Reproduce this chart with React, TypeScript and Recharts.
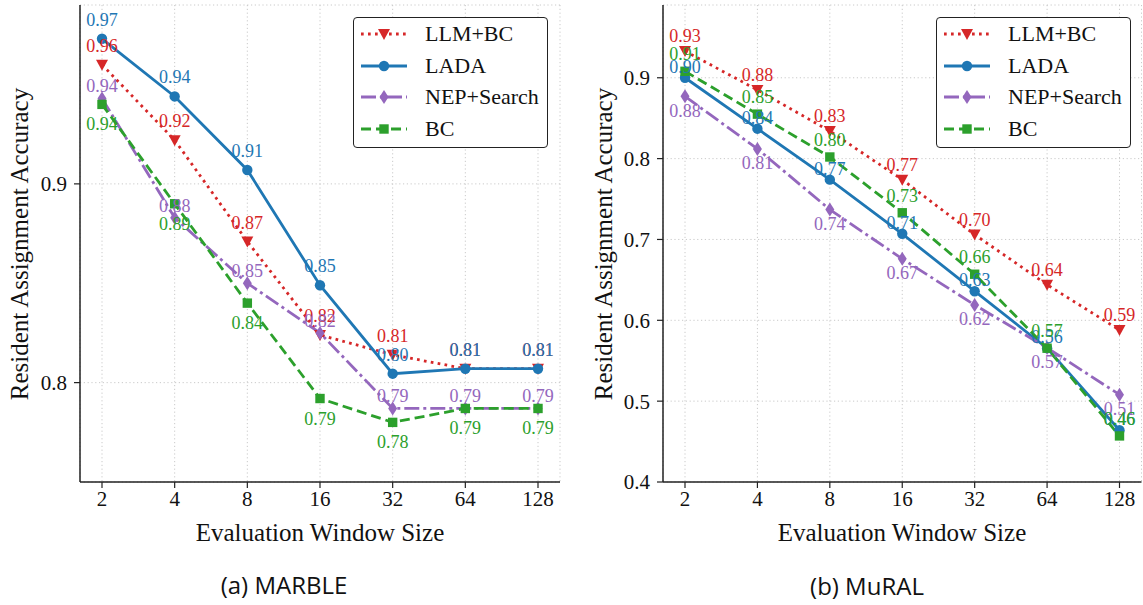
import { LineChart, Line, XAxis, YAxis, CartesianGrid, LabelList } from 'recharts'

const windows = ['2', '4', '8', '16', '32', '64', '128']

// (a) MARBLE
const marbleLlmBc = [0.96, 0.922, 0.871, 0.824, 0.814, 0.807, 0.807]
const marbleLada = [0.973, 0.944, 0.907, 0.849, 0.8045, 0.807, 0.807]
const marbleNep = [0.943, 0.883, 0.85, 0.825, 0.787, 0.787, 0.787]
const marbleBc = [0.94, 0.89, 0.84, 0.792, 0.78, 0.787, 0.787]

const marbleLlmBcLabels = ['0.96', '0.92', '0.87', '0.82', '0.81', '0.81', '0.81']
const marbleLadaLabels = ['0.97', '0.94', '0.91', '0.85', '0.80', '0.81', '0.81']
const marbleNepLabels = ['0.94', '0.88', '0.85', '0.82', '0.79', '0.79', '0.79']
const marbleBcLabels = ['0.94', '0.89', '0.84', '0.79', '0.78', '0.79', '0.79']

// (b) MuRAL
const muralLlmBc = [0.933, 0.885, 0.834, 0.774, 0.706, 0.644, 0.588]
const muralLada = [0.9, 0.837, 0.774, 0.707, 0.636, 0.5655, 0.464]
const muralNep = [0.877, 0.812, 0.737, 0.676, 0.619, 0.566, 0.508]
const muralBc = [0.908, 0.855, 0.802, 0.733, 0.657, 0.5655, 0.457]

const muralLlmBcLabels = ['0.93', '0.88', '0.83', '0.77', '0.70', '0.64', '0.59']
const muralLadaLabels = ['0.90', '0.84', '0.77', '0.71', '0.63', '0.56', '0.46']
const muralNepLabels = ['0.88', '0.81', '0.74', '0.67', '0.62', '0.57', '0.51']
const muralBcLabels = ['0.91', '0.85', '0.80', '0.73', '0.66', '0.57', '0.46']

const marbleTicks = [0.8, 0.9]
const muralTicks = [0.4, 0.5, 0.6, 0.7, 0.8, 0.9]

const SERIF = "'Liberation Serif', 'Times New Roman', serif"

type Kind = 'tri' | 'circle' | 'diamond' | 'square'

const series = [
  { key: 'llm', name: 'LLM+BC', color: '#d62728', dash: '2.7 4.3', kind: 'tri' as Kind },
  { key: 'lada', name: 'LADA', color: '#1f77b4', dash: undefined, kind: 'circle' as Kind },
  { key: 'nep', name: 'NEP+Search', color: '#9467bd', dash: '15 4 3 4', kind: 'diamond' as Kind },
  { key: 'bc', name: 'BC', color: '#2ca02c', dash: '10 5', kind: 'square' as Kind },
]

function buildRows(llm: number[], lada: number[], nep: number[], bc: number[], labels: string[][]) {
  return windows.map((w, i) => ({
    w,
    llm: llm[i],
    lada: lada[i],
    nep: nep[i],
    bc: bc[i],
    llmLabel: labels[0][i],
    ladaLabel: labels[1][i],
    nepLabel: labels[2][i],
    bcLabel: labels[3][i],
  }))
}

const marbleRows = buildRows(marbleLlmBc, marbleLada, marbleNep, marbleBc, [
  marbleLlmBcLabels, marbleLadaLabels, marbleNepLabels, marbleBcLabels,
])
const muralRows = buildRows(muralLlmBc, muralLada, muralNep, muralBc, [
  muralLlmBcLabels, muralLadaLabels, muralNepLabels, muralBcLabels,
])

function Marker({ kind, cx, cy, color }: { kind: Kind; cx: number; cy: number; color: string }) {
  if (kind === 'tri')
    return <polygon points={`${cx - 6},${cy - 5} ${cx + 6},${cy - 5} ${cx},${cy + 6}`} fill={color} />
  if (kind === 'circle') return <circle cx={cx} cy={cy} r={5.2} fill={color} />
  if (kind === 'diamond')
    return <polygon points={`${cx},${cy - 7} ${cx + 4.5},${cy} ${cx},${cy + 7} ${cx - 4.5},${cy}`} fill={color} />
  return <rect x={cx - 4.7} y={cy - 4.7} width={9.4} height={9.4} fill={color} />
}

// label side + gap per series (top: baseline above point, bottom: digit top below point)
type Place = { side: 'top' | 'bottom'; gap: number }

interface PanelProps {
  rows: any[]
  domain: [number, number]
  ticks: number[]
  width: number
  yWidth: number
  marginRight: number
  places: Place[]
}

const tickText = { fontSize: 21, fontFamily: SERIF, fill: '#111', style: { fontFamily: SERIF } }

function Panel({ rows, domain, ticks, width, yWidth, marginRight, places }: PanelProps) {
  const axisLine = { stroke: '#222', strokeWidth: 1.5 }
  return (
    <LineChart width={width} height={605} data={rows} margin={{ top: 5, right: marginRight, bottom: 93, left: 0 }}>
      <CartesianGrid stroke="#c4c4c4" strokeDasharray="1.2 2.6" strokeWidth={0.9} />
      <XAxis
        dataKey="w"
        padding={{ left: 22, right: 22 }}
        height={30}
        interval={0}
        tickSize={6}
        tickMargin={3}
        axisLine={axisLine}
        tickLine={{ stroke: '#222', strokeWidth: 1.2 }}
        tick={tickText}
      />
      <XAxis xAxisId="top" orientation="top" dataKey="w" height={0} tick={false} tickLine={false} axisLine={axisLine} />
      <YAxis
        type="number"
        domain={domain}
        ticks={ticks}
        allowDataOverflow
        width={yWidth}
        tickSize={6}
        tickMargin={7}
        tickFormatter={(v: number) => v.toFixed(1)}
        axisLine={axisLine}
        tickLine={{ stroke: '#222', strokeWidth: 1.2 }}
        tick={tickText}
      />
      <YAxis yAxisId="right" orientation="right" type="number" domain={domain} width={0} tick={false} tickLine={false} axisLine={axisLine} />
      {series.map((s, si) => (
        <Line
          key={s.key}
          type="linear"
          dataKey={s.key}
          stroke={s.color}
          strokeWidth={2.8}
          strokeDasharray={s.dash}
          isAnimationActive={false}
          activeDot={false}
          dot={(p: any) => <Marker key={`${s.key}-${p.index}`} kind={s.kind} cx={p.cx} cy={p.cy} color={s.color} />}
        >
          <LabelList
            dataKey={`${s.key}Label`}
            content={(p: any) => {
              const x = p.x ?? p.viewBox?.x
              const y = p.y ?? p.viewBox?.y
              const pl = places[si]
              const yy = pl.side === 'top' ? y - pl.gap : y + pl.gap + 12
              return (
                <text x={x} y={yy} textAnchor="middle" fill={s.color} style={{ fontFamily: SERIF, fontSize: 18 }}>
                  {p.value}
                </text>
              )
            }}
          />
        </Line>
      ))}
    </LineChart>
  )
}

function LegendBox({ left }: { left: number }) {
  return (
    <div
      style={{
        position: 'absolute',
        left,
        top: 16.5,
        width: 195,
        height: 131,
        boxSizing: 'border-box',
        border: '1.5px solid #222',
        borderRadius: 4,
        background: '#fff',
      }}
    >
      {series.map((s, i) => (
        <div key={s.key} style={{ position: 'absolute', left: 0, top: 0.5 + i * 31.7, height: 31.7, display: 'flex', alignItems: 'center' }}>
          <svg width={64} height={20} style={{ display: 'block' }}>
            <line x1={7} y1={10} x2={53} y2={10} stroke={s.color} strokeWidth={2.8} strokeDasharray={s.dash} />
            <Marker kind={s.kind} cx={30} cy={10} color={s.color} />
          </svg>
          <span style={{ marginLeft: 7, fontFamily: SERIF, fontSize: 22, color: '#111', whiteSpace: 'nowrap' }}>{s.name}</span>
        </div>
      ))}
    </div>
  )
}

const titleStyle: React.CSSProperties = {
  position: 'absolute',
  fontFamily: SERIF,
  fontSize: 25,
  color: '#111',
  whiteSpace: 'nowrap',
  lineHeight: 1,
}

const capStyle: React.CSSProperties = {
  position: 'absolute',
  fontFamily: "'Open Sans', 'Noto Sans', sans-serif",
  fontSize: 24,
  color: '#111',
  whiteSpace: 'nowrap',
  lineHeight: 1,
}

export default function App() {
  return (
    <div style={{ position: 'relative', width: 1143, height: 605, background: '#fff', overflow: 'hidden' }}>
      <style>{'body{margin:0}'}</style>

      <div style={{ position: 'absolute', left: 0, top: 0 }}>
        <Panel
          rows={marbleRows}
          domain={[0.75, 0.99]}
          ticks={marbleTicks}
          width={580}
          yWidth={80}
          marginRight={20}
          places={[
            { side: 'top', gap: 13 },
            { side: 'top', gap: 13 },
            { side: 'top', gap: 6 },
            { side: 'bottom', gap: 14 },
          ]}
        />
      </div>
      <div style={{ position: 'absolute', left: 580, top: 0 }}>
        <Panel
          rows={muralRows}
          domain={[0.4, 0.99]}
          ticks={muralTicks}
          width={563}
          yWidth={83}
          marginRight={1.5}
          places={[
            { side: 'top', gap: 9 },
            { side: 'top', gap: 5 },
            { side: 'bottom', gap: 8.5 },
            { side: 'top', gap: 11 },
          ]}
        />
      </div>

      <LegendBox left={353} />
      <LegendBox left={936} />

      <div style={{ ...titleStyle, left: 19, top: 243.5, transform: 'translate(-50%, -50%) rotate(-90deg)' }}>
        Resident Assignment Accuracy
      </div>
      <div style={{ ...titleStyle, left: 603, top: 243.5, transform: 'translate(-50%, -50%) rotate(-90deg)' }}>
        Resident Assignment Accuracy
      </div>
      <div style={{ ...titleStyle, left: 320, top: 532, transform: 'translate(-50%, -50%)' }}>Evaluation Window Size</div>
      <div style={{ ...titleStyle, left: 902, top: 532, transform: 'translate(-50%, -50%)' }}>Evaluation Window Size</div>

      <div style={{ ...capStyle, left: 284, top: 585, transform: 'translate(-50%, -50%)' }}>(a) MARBLE</div>
      <div style={{ ...capStyle, left: 867, top: 586, transform: 'translate(-50%, -50%)' }}>(b) MuRAL</div>
    </div>
  )
}
